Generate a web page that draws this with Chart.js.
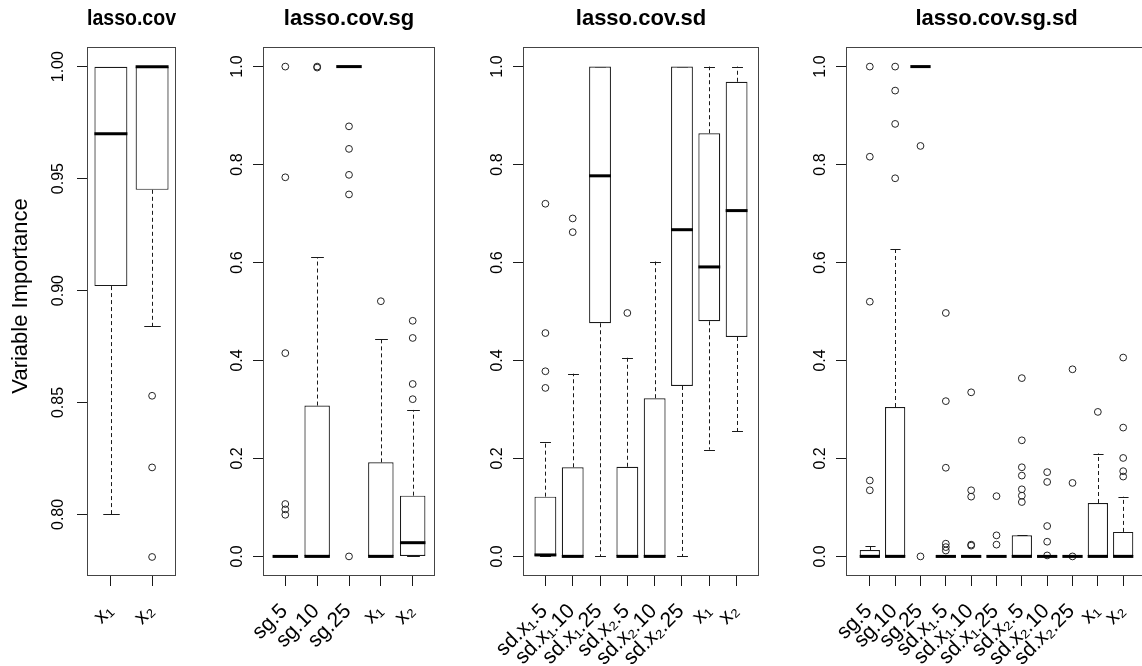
<!DOCTYPE html>
<html>
<head>
<meta charset="utf-8">
<script src="https://cdn.jsdelivr.net/npm/chart.js@4"></script>
<style>
  html, body { margin: 0; padding: 0; background: #fff; overflow: hidden; }
  #wrap { position: relative; width: 1142px; height: 666px; overflow: hidden; background: #fff; }
  #wrap canvas { position: absolute; top: 0; }
</style>
</head>
<body>
<div id="wrap">
  <canvas id="p1" width="205" height="666" style="left:0px"></canvas>
  <canvas id="p2" width="279" height="666" style="left:176px"></canvas>
  <canvas id="p3" width="343" height="666" style="left:436px"></canvas>
  <canvas id="p4" width="408" height="666" style="left:759px"></canvas>
</div>
<script>
// --- lasso.cov ---
const covLabels = ['x\u2081', 'x\u2082'];
const covLow  = [0.800, 0.884];
const covQ1   = [0.902, 0.945];
const covMed  = [0.970, 1.000];
const covQ3   = [1.000, 1.000];
const covHigh = [1.000, 1.000];
const covOut  = [[], [0.853, 0.821, 0.781]];
const covTicks = [0.80, 0.85, 0.90, 0.95, 1.00];

// --- lasso.cov.sg ---
const sgLabels = ['sg.5', 'sg.10', 'sg.25', 'x\u2081', 'x\u2082'];
const sgLow  = [0, 0, 1, 0, 0];
const sgQ1   = [0, 0, 1, 0, 0];
const sgMed  = [0, 0, 1, 0, 0.028];
const sgQ3   = [0, 0.308, 1, 0.192, 0.124];
const sgHigh = [0, 0.611, 1, 0.443, 0.299];
const sgOut  = [[1.0, 0.774, 0.415, 0.107, 0.096, 0.085], [1.0, 0.998], [0.878, 0.832, 0.779, 0.739, 0.0], [0.521], [0.481, 0.446, 0.352, 0.321]];

// --- lasso.cov.sd ---
const sdLabels = ['sd.x\u2081.5', 'sd.x\u2081.10', 'sd.x\u2081.25', 'sd.x\u2082.5', 'sd.x\u2082.10', 'sd.x\u2082.25', 'x\u2081', 'x\u2082'];
const sdLow  = [0, 0, 0, 0, 0, 0, 0.218, 0.256];
const sdQ1   = [0, 0, 0.476, 0, 0, 0.348, 0.480, 0.448];
const sdMed  = [0.003, 0, 0.777, 0, 0, 0.667, 0.591, 0.706];
const sdQ3   = [0.122, 0.182, 1, 0.183, 0.323, 1, 0.864, 0.969];
const sdHigh = [0.233, 0.373, 1, 0.406, 0.602, 1, 1, 1];
const sdOut  = [[0.720, 0.456, 0.378, 0.344], [0.690, 0.662], [], [0.497], [], [], [], []];

// --- lasso.cov.sg.sd ---
const sgsdLabels = ['sg.5', 'sg.10', 'sg.25', 'sd.x\u2081.5', 'sd.x\u2081.10', 'sd.x\u2081.25', 'sd.x\u2082.5', 'sd.x\u2082.10', 'sd.x\u2082.25', 'x\u2081', 'x\u2082'];
const sgsdLow  = [0, 0, 1, 0, 0, 0, 0, 0, 0, 0, 0];
const sgsdQ1   = [0, 0, 1, 0, 0, 0, 0, 0, 0, 0, 0];
const sgsdMed  = [0, 0, 1, 0, 0, 0, 0, 0, 0, 0, 0];
const sgsdQ3   = [0.013, 0.305, 1, 0, 0, 0, 0.043, 0, 0, 0.109, 0.050];
const sgsdHigh = [0.022, 0.628, 1, 0, 0, 0, 0.043, 0, 0, 0.210, 0.122];
const sgsdOut  = [[1.0, 0.816, 0.520, 0.155, 0.135], [1.0, 0.951, 0.883, 0.772], [0.838, 0.0],
                  [0.497, 0.317, 0.181, 0.026, 0.019, 0.012], [0.335, 0.135, 0.122, 0.024, 0.022], [0.123, 0.043, 0.024],
                  [0.364, 0.237, 0.182, 0.165, 0.137, 0.124, 0.111], [0.172, 0.152, 0.062, 0.030, 0.002], [0.382, 0.150, 0.0],
                  [0.295], [0.406, 0.263, 0.201, 0.174, 0.163]];
const unitTicks = [0, 0.2, 0.4, 0.6, 0.8, 1.0];

Chart.defaults.font.family = '"Liberation Sans", Arial, Helvetica, sans-serif';
Chart.defaults.color = '#000';

const INK = '#1a1a1a';

// whiskers, staples, medians and the frame, all placed through the chart scales
function boxPlugin(s, yTitle) {
  return {
    id: 'boxes',
    beforeDatasetsDraw(chart) {
      const { ctx, scales: { x, y } } = chart;
      const staple = x.getPixelForValue(1.2) - x.getPixelForValue(1);
      ctx.save();
      ctx.strokeStyle = INK;
      ctx.lineWidth = 1;
      s.labels.forEach((_, i) => {
        const px = Math.round(x.getPixelForValue(i + 1)) + 0.5;
        const seg = (a, b) => {
          ctx.beginPath();
          ctx.moveTo(px, y.getPixelForValue(a));
          ctx.lineTo(px, y.getPixelForValue(b));
          ctx.stroke();
        };
        ctx.setLineDash([4, 3]);
        if (s.high[i] > s.q3[i]) seg(s.q3[i], s.high[i]);
        if (s.low[i] < s.q1[i]) seg(s.q1[i], s.low[i]);
        ctx.setLineDash([]);
        [s.high[i], s.low[i]].forEach(v => {
          const py = Math.round(y.getPixelForValue(v)) + 0.5;
          ctx.beginPath();
          ctx.moveTo(px - staple, py);
          ctx.lineTo(px + staple, py);
          ctx.stroke();
        });
      });
      ctx.restore();
    },
    afterDatasetsDraw(chart) {
      const { ctx, chartArea: a, scales: { x, y } } = chart;
      const half = x.getPixelForValue(1.4) - x.getPixelForValue(1);
      ctx.save();
      ctx.strokeStyle = '#000';
      ctx.lineWidth = 3;
      s.labels.forEach((_, i) => {
        const px = x.getPixelForValue(i + 1);
        const py = y.getPixelForValue(s.med[i]);
        ctx.beginPath();
        ctx.moveTo(px - half, py);
        ctx.lineTo(px + half, py);
        ctx.stroke();
      });
      ctx.lineWidth = 1;
      ctx.strokeStyle = '#444';
      ctx.strokeRect(Math.round(a.left) + 0.5, Math.round(a.top) + 0.5,
                     Math.round(a.right - a.left) - 1, Math.round(a.bottom - a.top) - 1);
      if (yTitle) {
        ctx.fillStyle = '#000';
        ctx.font = '22px "Liberation Sans", Arial, sans-serif';
        ctx.textAlign = 'center';
        ctx.textBaseline = 'middle';
        ctx.translate(21, 296);
        ctx.rotate(-Math.PI / 2);
        ctx.fillText(yTitle, 0, 0);
      }
      ctx.restore();
    }
  };
}

function makePanel(id, title, s, yMin, yMax, yTicks, digits, tickPad, rightPad, yTitle) {
  const n = s.labels.length;
  const boxes = s.labels.map((_, i) => ({ x: i + 1, y: [s.q1[i], s.q3[i]] }));
  const outliers = [];
  s.out.forEach((vals, i) => vals.forEach(v => outliers.push({ x: i + 1, y: v })));

  new Chart(document.getElementById(id), {
    type: 'bar',
    data: {
      datasets: [
        {
          type: 'bar',
          data: boxes,
          backgroundColor: '#fff',
          borderColor: INK,
          borderWidth: 1.2,
          borderSkipped: false,
          barPercentage: 0.8,
          categoryPercentage: 1,
          order: 2
        },
        {
          type: 'line',
          data: outliers,
          showLine: false,
          pointStyle: 'circle',
          pointRadius: 3.4,
          pointBorderWidth: 1,
          pointBackgroundColor: 'rgba(0,0,0,0)',
          pointBorderColor: '#222',
          order: 1
        }
      ]
    },
    options: {
      responsive: false,
      animation: false,
      events: [],
      layout: { padding: { left: 0, right: rightPad, top: 0, bottom: 0 } },
      plugins: {
        legend: { display: false },
        tooltip: { enabled: false },
        title: {
          display: true,
          text: title,
          fullSize: false,
          color: '#000',
          font: { size: 22, weight: 'bold', lineHeight: 1.2 },
          padding: { top: 6, bottom: 47 - 26.4 - 6 }
        }
      },
      scales: {
        x: {
          type: 'linear',
          offset: false,
          min: 0.5 - 0.04 * n,
          max: n + 0.5 + 0.04 * n,
          afterBuildTicks: sc => { sc.ticks = s.labels.map((_, i) => ({ value: i + 1 })); },
          afterFit: sc => { sc.height = 666 - 576; },
          ticks: {
            autoSkip: false,
            minRotation: 45,
            maxRotation: 45,
            padding: 13,
            labelOffset: -1,
            color: '#000',
            font: { size: 21 },
            callback: (v, i) => s.labels[i]
          },
          grid: { display: true, offset: false, drawOnChartArea: false, drawTicks: true, tickLength: 10, tickColor: INK },
          border: { display: false }
        },
        y: {
          type: 'linear',
          min: yMin,
          max: yMax,
          afterBuildTicks: sc => { sc.ticks = yTicks.map(v => ({ value: v })); },
          afterFit: sc => { sc.width = 87; },
          ticks: {
            minRotation: 90,
            maxRotation: 90,
            crossAlign: 'center',
            padding: tickPad,
            color: '#000',
            font: { size: 16 },
            callback: v => v.toFixed(digits)
          },
          grid: { display: true, drawOnChartArea: false, drawTicks: true, tickLength: 10, tickColor: INK },
          border: { display: false }
        }
      }
    },
    plugins: [boxPlugin(s, yTitle)]
  });
}

makePanel('p1', 'lasso.cov',
  { labels: covLabels, low: covLow, q1: covQ1, med: covMed, q3: covQ3, high: covHigh, out: covOut },
  0.7725, 1.0088, covTicks, 2, 2.4, 29, 'Variable Importance');
makePanel('p2', 'lasso.cov.sg',
  { labels: sgLabels, low: sgLow, q1: sgQ1, med: sgMed, q3: sgQ3, high: sgHigh, out: sgOut },
  -0.04, 1.04, unitTicks, 1, 4.4, 20, null);
makePanel('p3', 'lasso.cov.sd',
  { labels: sdLabels, low: sdLow, q1: sdQ1, med: sdMed, q3: sdQ3, high: sdHigh, out: sdOut },
  -0.04, 1.04, unitTicks, 1, 4.4, 20, null);
makePanel('p4', 'lasso.cov.sg.sd',
  { labels: sgsdLabels, low: sgsdLow, q1: sgsdQ1, med: sgsdMed, q3: sgsdQ3, high: sgsdHigh, out: sgsdOut },
  -0.04, 1.04, unitTicks, 1, 4.4, 20, null);
</script>
</body>
</html>
